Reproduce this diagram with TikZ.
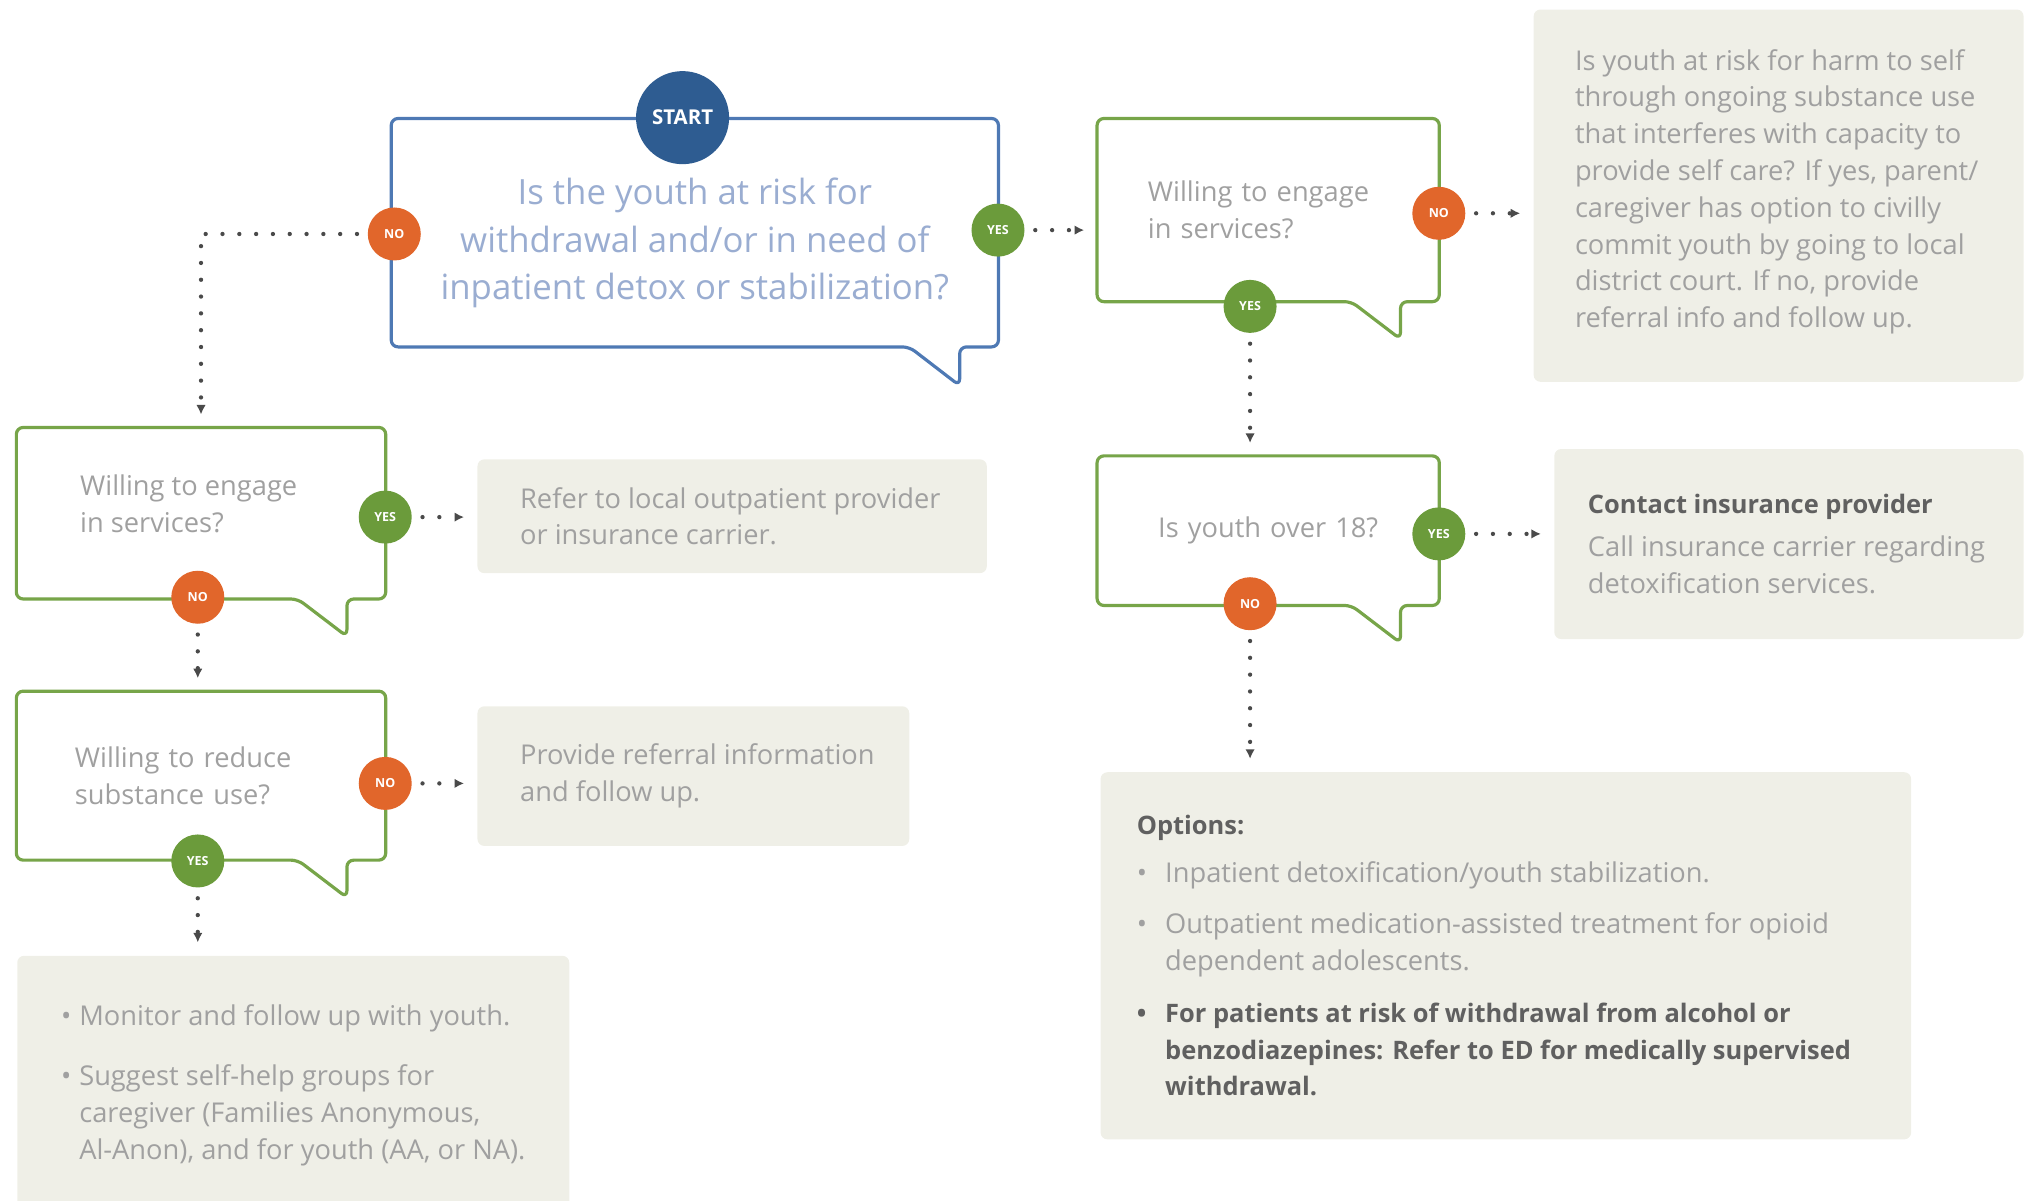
\documentclass[tikz,border=0pt]{standalone}
\usepackage{fontspec}
\setmainfont{Open Sans}
\usetikzlibrary{arrows.meta,positioning}
\definecolor{rimblue}{HTML}{4E79B4}
\definecolor{startblue}{HTML}{2E5C91}
\definecolor{askblue}{HTML}{9AADD1}
\definecolor{rimgreen}{HTML}{77A549}
\definecolor{yesgreen}{HTML}{6B9B3B}
\definecolor{noorange}{HTML}{E1662B}
\definecolor{notefill}{HTML}{EFEFE7}
\definecolor{softink}{HTML}{A0A0A0}
\definecolor{darkink}{HTML}{606060}
\definecolor{dotink}{HTML}{4A4A4A}
\newcommand{\strongline}[1]{{\fontsize{11.2}{16.2}\selectfont\bfseries\color{darkink}#1}}

\begin{document}
\begin{tikzpicture}[x=0.2mm, y=-0.2mm,
  body/.style={text=softink, font=\fontsize{12}{16.2}\selectfont},
  bubble/.style={body, inner ysep=0pt, align=left},
  rim/.style={line width=1.4pt, rounded corners=3pt, line join=round},
  yesmark/.style={circle, fill=yesgreen, minimum size=8.2mm, inner sep=0pt,
                  text=white, font=\fontsize{5.5}{5.5}\selectfont\bfseries},
  nomark/.style={yesmark, fill=noorange},
  startmark/.style={circle, fill=startblue, minimum size=14.4mm, inner sep=0pt,
                    text=white, font=\fontsize{9}{9}\selectfont\bfseries},
  note/.style={fill=notefill, rounded corners=3pt, anchor=north west, inner sep=0pt},
  notetext/.style={body, align=left, inner sep=0pt},
  flow/.style={draw=dotink, line width=1.9pt, line cap=round,
               dash pattern=on 0pt off 7.4pt, shorten <=1.6mm, shorten >=2mm,
               -{Latex[length=4.2pt,width=4.2pt]}}]

\useasboundingbox (0,0) rectangle (1568,929);

% question bubbles
\node[bubble, minimum width=93.8mm, minimum height=35.2mm, inner xsep=0pt]
  (q0) at (537.5,180) {};
\node[bubble, text=askblue, font=\fontsize{15.3}{21}\selectfont, align=center,
      inner sep=0pt] (ask) at ([yshift=-1.6mm]q0.center)
  {Is the youth at risk for\\withdrawal and/or in need of\\inpatient detox or stabilization?};
\node[bubble, minimum height=28.2mm, text width=37.2mm, inner xsep=7.8mm]
  (q1) at (981,162.5) {Willing to engage\\in services?};
\node[bubble, align=center, minimum width=52.8mm, minimum height=23mm,
      text width=48mm, inner xsep=0pt]
  (q2) at (981,410.5) {Is youth over 18?};
\node[bubble, minimum width=57mm, minimum height=26.4mm, inner xsep=0pt]
  (w1) at (155.5,397) {};
\node[notetext, right=9.8mm of w1.west, yshift=1.4mm] (ask1)
  {Willing to engage\\in services?};
\node[bubble, minimum height=26mm, text width=39mm, inner xsep=9mm]
  (w2) at (155.5,600) {Willing to reduce\\substance use?};

\draw[rimblue, rim] (q0.south east) -- ++(-30,0) -- ++(0,30) -- ++(-39,-30)
  -- (q0.south west) -- (q0.north west) -- (q0.north east) -- cycle;
\foreach \b in {q1,q2,w1,w2}
  \draw[rimgreen, rim] (\b.south east) -- ++(-30,0) -- ++(0,29) -- ++(-38,-29)
    -- (\b.south west) -- (\b.north west) -- (\b.north east) -- cycle;

% grey notes
\node[note, minimum width=75.8mm, minimum height=57.6mm] (g1) at (1186,7) {};
\node[notetext, right=6.4mm of g1.west, yshift=0.6mm] (t1)
  {Is youth at risk for harm to self\\through ongoing substance use\\
   that interferes with capacity to\\provide self care? If yes, parent/\\
   caregiver has option to civilly\\commit youth by going to local\\
   district court. If no, provide\\referral info and follow up.};

\node[note, minimum width=72.6mm, minimum height=29.4mm] (g2) at (1202,347) {};
\node[notetext, right=5.2mm of g2.west] (t2)
  {\strongline{Contact insurance provider}\\[2.6pt]
   Call insurance carrier regarding\\detoxification services.};

\node[note, minimum width=125.4mm, minimum height=56.8mm] (g3) at (851,597) {};
\node[notetext, right=5.6mm of g3.west] (t3)
  {\strongline{Options:}\\[4.8pt]
   \makebox[4.4mm][l]{\textbullet}Inpatient detoxification/youth stabilization.\\[6.5pt]
   \makebox[4.4mm][l]{\textbullet}Outpatient medication-assisted treatment for opioid\\
   \hspace*{4.4mm}dependent adolescents.\\[6.5pt]
   \strongline{\makebox[4.4mm][l]{\textbullet}For patients at risk of withdrawal from alcohol or}\\
   \strongline{\hspace*{4.4mm}benzodiazepines: Refer to ED for medically supervised}\\
   \strongline{\hspace*{4.4mm}withdrawal.}};

\node[note, minimum width=78.8mm, minimum height=17.6mm] (g4) at (369,355) {};
\node[notetext, right=6.6mm of g4.west] (t4)
  {Refer to local outpatient provider\\or insurance carrier.};

\node[note, minimum width=66.8mm, minimum height=21.6mm] (g5) at (369,546) {};
\node[notetext, right=6.6mm of g5.west] (t5)
  {Provide referral information\\and follow up.};

\node[note, minimum width=85.4mm, minimum height=40mm] (g6) at (13,739) {};
\node[notetext, right=6.8mm of g6.west] (t6)
  {\makebox[2.8mm][l]{\textbullet}Monitor and follow up with youth.\\[10.5pt]
   \makebox[2.8mm][l]{\textbullet}Suggest self-help groups for\\
   \hspace*{2.8mm}caregiver (Families Anonymous,\\
   \hspace*{2.8mm}Al-Anon), and for youth (AA, or NA).};

% answer marks
\node[startmark] (start) at (528,91) {START};
\node[nomark] (n0) at (305,181) {NO};
\node[yesmark] (y0) at (772,178) {YES};
\node[nomark] (n1) at (1113,165) {NO};
\node[yesmark] (y1) at (967,237) {YES};
\node[yesmark] (y2) at (1113,413) {YES};
\node[nomark] (n2) at (967,467) {NO};
\node[yesmark] (y3) at (298,400) {YES};
\node[nomark] (n3) at (153,462) {NO};
\node[nomark] (n4) at (298,606) {NO};
\node[yesmark] (y4) at (153,666) {YES};

% dotted flow
\draw[flow] (n0) -| (w1.north);
\draw[flow] (y0) -- (y0 -| q1.west);
\draw[flow] (n1) -- (n1 -| g1.west);
\draw[flow] (y1) -- (y1 |- q2.north);
\draw[flow] (y2) -- (y2 -| g2.west);
\draw[flow] (n2) -- (n2 |- g3.north);
\draw[flow] (y3) -- (y3 -| g4.west);
\draw[flow] (n3) -- (n3 |- w2.north);
\draw[flow] (n4) -- (n4 -| g5.west);
\draw[flow] (y4) -- (y4 |- g6.north);

\end{tikzpicture}
\end{document}
